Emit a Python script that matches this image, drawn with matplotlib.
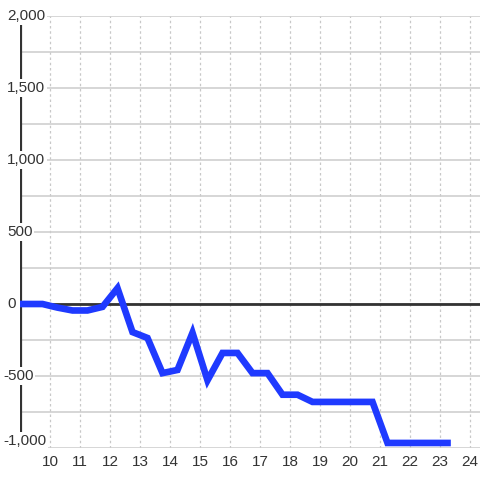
import matplotlib.pyplot as plt
from matplotlib.ticker import MultipleLocator

# ===============================
# Data
# ===============================
hours = [9.0, 9.75, 10.25, 10.75, 11.25, 11.75, 12.25, 12.75, 13.25, 13.75,
         14.25, 14.75, 15.25, 15.75, 16.25, 16.75, 17.25, 17.75, 18.25, 18.75,
         19.25, 19.75, 20.25, 20.75, 21.25, 21.75, 22.25, 22.75, 23.25]
values = [0, 0, -25, -45, -45, -20, 110, -195, -236, -480,
          -458, -200, -530, -340, -340, -480, -480, -630, -630, -680,
          -680, -680, -680, -680, -965, -965, -965, -965, -965]

y_ticks = [2000, 1500, 1000, 500, 0, -500, -1000]
y_labels = ["2,000", "1,500", "1,000", "500", "0", "-500", "-1,000"]
x_ticks = list(range(10, 25))

plt.rcParams['font.family'] = ['Liberation Sans', 'DejaVu Sans']

# ===============================
# Figure
# ===============================
fig = plt.figure(figsize=(4.8, 4.8), dpi=100)
ax = fig.add_axes([20 / 480, 32 / 480, 460 / 480, 432 / 480])

ax.set_xlim(9, 9 + 460 / 30)
ax.set_ylim(-1000, 2000)

for s in ax.spines.values():
    s.set_visible(False)

# grid
ax.yaxis.set_major_locator(MultipleLocator(250))
ax.set_xticks(x_ticks)
ax.grid(axis='y', color='#cccccc', linewidth=1.1, zorder=0)
ax.grid(axis='x', color='#c8c8c8', linewidth=0.9, linestyle=(0, (2, 2.2)), zorder=0)

# axis lines
ax.axvline(9, color='#333333', linewidth=2.3, zorder=2)
ax.axhline(0, color='#333333', linewidth=2.0, zorder=2)

# series
ax.plot(hours, values, color='#1f3aff', linewidth=4.8,
        solid_joinstyle='miter', solid_capstyle='projecting', zorder=3)

# y labels drawn inside the plot
ax.tick_params(axis='y', left=False, labelleft=False)
for v, lab in zip(y_ticks, y_labels):
    va = 'bottom' if v == -1000 else 'center'
    ax.text(-13 / 460 if not lab.startswith('-') else -17 / 460, v, lab,
            transform=ax.get_yaxis_transform(), ha='left', va=va,
            fontsize=11, color='#333333', zorder=4,
            bbox=dict(facecolor='white', edgecolor='none', pad=1.2))

ax.tick_params(axis='x', bottom=False, labelsize=11, labelcolor='#333333', pad=1.5)

fig.savefig("out.png", dpi=100)
